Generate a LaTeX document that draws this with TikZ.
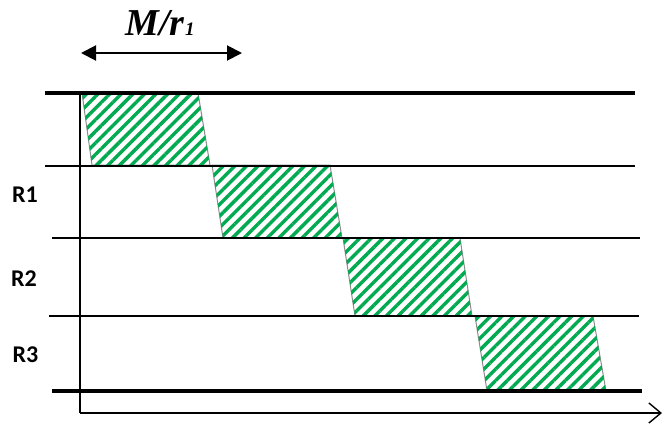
\documentclass[tikz,border=0pt]{standalone}
\usepackage{fontspec}
\newfontfamily\labfont{Carlito}
\newfontfamily\mfont{Liberation Serif}
\usetikzlibrary{arrows.meta,patterns.meta}
\definecolor{hatchgreen}{RGB}{0,170,80}
\definecolor{edgegray}{RGB}{140,140,140}
\tikzset{
  thinrule/.style={line width=1.4pt, black},
  thickrule/.style={line width=3.6pt, black},
  slab/.style={draw=edgegray, line width=1pt, fill=white,
    postaction={pattern={Lines[angle=45,distance=8.2pt,line width=3.4pt]}, pattern color=hatchgreen}},
  rlabel/.style={font=\labfont\bfseries\fontsize{24}{24}\selectfont, inner sep=0pt, anchor=base},
}
\begin{document}
\begin{tikzpicture}[x=1pt,y=-1pt]
\useasboundingbox (0,0) rectangle (663,424);
% parallelograms
\draw[slab] (82,93) -- (198,93) -- (210,165) -- (92,165) -- cycle;
\draw[slab] (212,165) -- (330,165) -- (342,238) -- (223,238) -- cycle;
\draw[slab] (343,238) -- (460,238) -- (472,316) -- (355,316) -- cycle;
\draw[slab] (475,316) -- (593,316) -- (606,391) -- (487,391) -- cycle;
% horizontal rules
\coordinate (a1) at (45,93);  \coordinate (b1) at (635,93);
\coordinate (a2) at (45,166); \coordinate (b2) at (635,166);
\coordinate (a3) at (52,238); \coordinate (b3) at (640,238);
\coordinate (a4) at (49,316); \coordinate (b4) at (639,316);
\coordinate (a5) at (52,391); \coordinate (b5) at (642,391);
\draw[thickrule] (a1) -- (b1);
\draw[thinrule] (a2) -- (b2);
\draw[thinrule] (a3) -- (b3);
\draw[thinrule] (a4) -- (b4);
\draw[thickrule] (a5) -- (b5);
% axes
\coordinate (o) at (80,413);
\coordinate (top) at (80,93);
\coordinate (xend) at (662,413);
\draw[thinrule] (top) -- (o);
\draw[thinrule, -{Straight Barb[length=12pt,width=20pt,line width=1.4pt]}] (o) -- (xend);
% M/r1 arrow
\coordinate (ml) at (81,53);
\coordinate (mr) at (242,53);
\draw[line width=2pt, {Triangle[length=15pt,width=15pt]}-{Triangle[length=15pt,width=15pt]}] (ml) -- (mr);
\node[anchor=base, inner sep=0pt] (mlab) at (160,35) {\mfont\bfseries\itshape\fontsize{38}{38}\selectfont M/r\kern0.5pt{\fontsize{19}{19}\selectfont 1}};
% row labels
\node[rlabel] (r1) at (25,202) {R1};
\node[rlabel] (r2) at (24,286) {R2};
\node[rlabel] (r3) at (25.5,362) {R3};
\end{tikzpicture}
\end{document}
